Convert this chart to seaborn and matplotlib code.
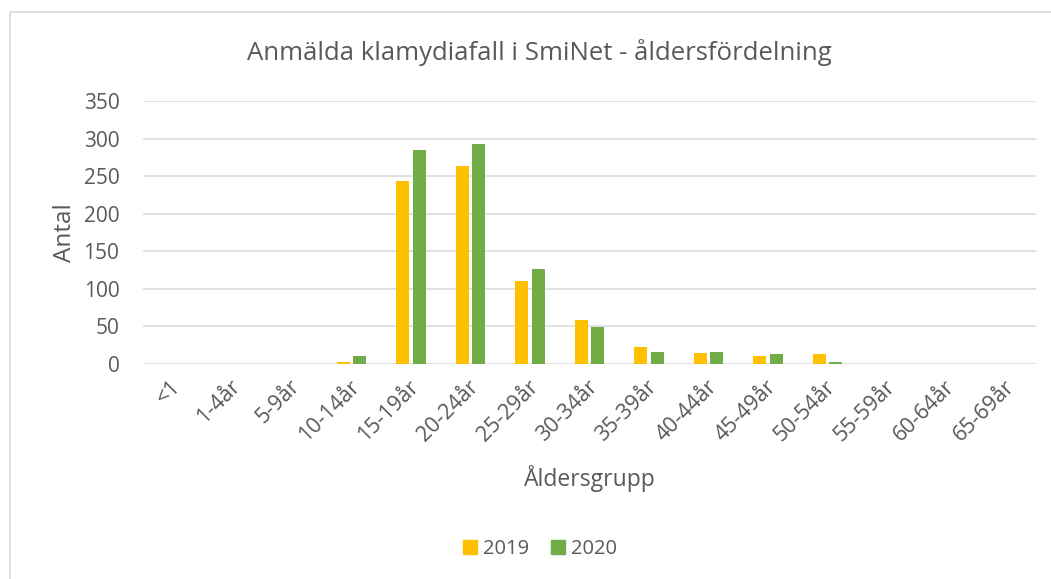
import matplotlib
matplotlib.use("Agg")
import matplotlib.pyplot as plt
import matplotlib.patches as mpatches
import matplotlib.transforms as mtransforms
import seaborn as sns
import pandas as pd

categories = ["<1", "1-4år", "5-9år", "10-14år", "15-19år", "20-24år", "25-29år",
              "30-34år", "35-39år", "40-44år", "45-49år", "50-54år", "55-59år",
              "60-64år", "65-69år"]
values_2019 = [0, 0, 0, 2, 243, 264, 111, 58, 23, 15, 11, 13, 0, 0, 0]
values_2020 = [0, 0, 0, 10, 285, 293, 127, 49, 16, 16, 13, 3, 0, 0, 0]
series = ["2019", "2020"]
colors = ["#FFC000", "#70AD47"]
yticks = [0, 50, 100, 150, 200, 250, 300, 350]

sns.set_theme(style="white")
plt.rcParams["font.family"] = ["Open Sans", "DejaVu Sans"]
txt = "#595959"

df = pd.DataFrame({
    "Åldersgrupp": categories * 2,
    "Antal": values_2019 + values_2020,
    "År": [series[0]] * len(categories) + [series[1]] * len(categories),
})

fig = plt.figure(figsize=(10.51, 5.79), dpi=100)
W, H = 1051, 579
ax = fig.add_axes([143 / W, 1 - 364 / H, (1036 - 143) / W, (364 - 101) / H])

sns.barplot(data=df, x="Åldersgrupp", y="Antal", hue="År", order=categories,
            hue_order=series, palette=dict(zip(series, colors)), width=0.56,
            gap=0.22, saturation=1, ax=ax, legend=False, linewidth=0)

ax.set_ylim(0, 350)
ax.set_xlim(-0.5, len(categories) - 0.5)
ax.set_yticks(yticks)
ax.yaxis.grid(True, color="#D9D9D9", linewidth=1.1)
ax.set_axisbelow(True)
for s in ax.spines.values():
    s.set_visible(False)
ax.tick_params(axis="both", length=0, colors=txt)
ax.tick_params(axis="y", pad=17, labelsize=15)
ax.set_xticks(range(len(categories)))
ax.set_xticklabels(categories, rotation=45, ha="right", va="center",
                   rotation_mode="anchor", color=txt, fontsize=15.5)
ax.tick_params(axis="x", pad=14)
offset = mtransforms.ScaledTranslation(5 / 100, 0, fig.dpi_scale_trans)
for lbl in ax.get_xticklabels():
    lbl.set_transform(lbl.get_transform() + offset)

ax.set_ylabel("Antal", color=txt, fontsize=17.5, labelpad=5)
ax.set_xlabel("Åldersgrupp", color=txt, fontsize=16.5, labelpad=14)

fig.text(539 / W, 1 - 52 / H, "Anmälda klamydiafall i SmiNet - åldersfördelning",
         ha="center", va="center", color=txt, fontsize=18.5)

handles = [mpatches.Patch(color=c, label=s) for s, c in zip(series, colors)]
leg = fig.legend(handles=handles, loc="center", bbox_to_anchor=(540 / W, 1 - 549 / H),
                 ncol=2, frameon=False, fontsize=14.5, handlelength=0.7,
                 handleheight=0.7, handletextpad=0.3, columnspacing=1.1)
for t in leg.get_texts():
    t.set_color(txt)

border = mpatches.Rectangle((10 / W, -0.5), 2, 1.5 - 12 / H, transform=fig.transFigure,
                            fill=False, edgecolor="#D9D9D9", linewidth=1.2)
fig.patches.append(border)

fig.savefig("out.png", dpi=100, facecolor="white")
